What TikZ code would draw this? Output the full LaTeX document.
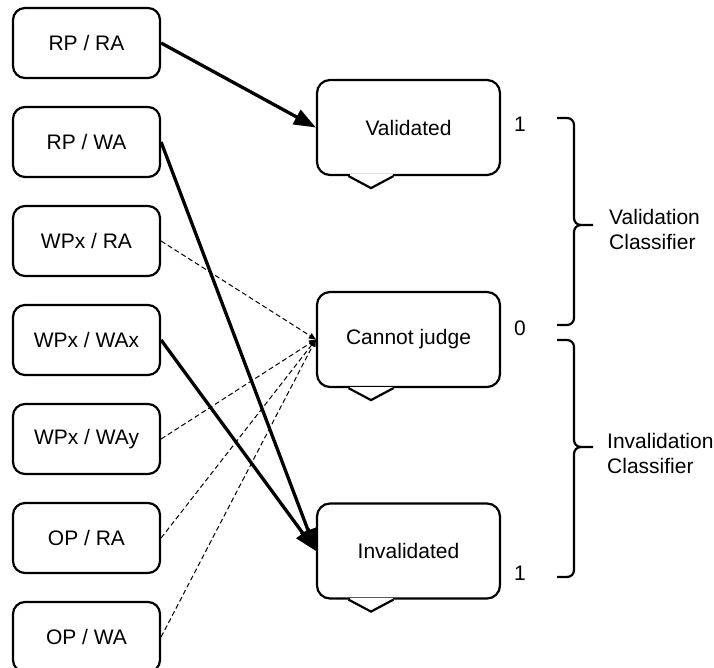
\documentclass[tikz,border=0pt]{standalone}
\usepackage{fontspec}
\setmainfont{Liberation Sans}
\usetikzlibrary{arrows.meta}

\tikzset{
  case/.style={draw, line width=2.2pt, rounded corners=12pt, minimum width=147pt, minimum height=70pt, inner sep=0pt},
  verdict/.style={draw, line width=2.2pt, rounded corners=13pt, minimum width=183pt, minimum height=95pt, inner sep=0pt},
  sure/.style={line width=3.3pt, -{Triangle[length=22pt,width=16pt]}},
  unsure/.style={line width=1pt, dash pattern=on 5pt off 3pt, -{Triangle[length=7pt,width=6pt]}},
  brace/.style={line width=2.2pt}
}

\begin{document}
\begin{tikzpicture}[x=1pt, y=-1pt, font=\fontsize{21}{25}\selectfont]
  \useasboundingbox (0,0) rectangle (714,668);
  \def\gap{99} % spacing of the left boxes

  \foreach \txt [count=\i] in {RP / RA, RP / WA, WPx / RA, WPx / WAx, WPx / WAy, OP / RA, OP / WA}
    \node[case] (c\i) at (86.5, {43+(\i-1)*\gap}) {\txt};

  \node[verdict] (val) at (408.5,127.5) {Validated};
  \node[verdict] (cj) at (408.5,339.5) {Cannot judge};
  \node[verdict] (inv) at (408.5,551) {Invalidated};
  \foreach \v in {val, cj, inv}{
    \fill[white] ([xshift=-59pt,yshift=1.6pt]\v.south) rectangle ([xshift=-16pt,yshift=-1.6pt]\v.south);
    \draw[line width=2.2pt] ([xshift=-60pt]\v.south) -- ([xshift=-37.5pt,yshift=-12pt]\v.south) -- ([xshift=-15pt]\v.south);}

  \draw[sure] (c1.east) -- (val.west);
  \draw[sure] (c2.east) -- (inv.west);
  \draw[sure] (c4.east) -- (inv.west);
  \foreach \i in {3,5,6,7}
    \draw[unsure] (c\i.east) -- (cj.west);

  \node (top1) at (520,124) {1};
  \node (mid0) at (520,328) {0};
  \node (bot1) at (520,573) {1};

  % braces
  \draw[brace] (557,118) -- (567,118) .. controls (571,118) and (574,121) .. (574,125) -- (574,218)
    .. controls (574,222) and (577,225) .. (581,225) -- (593,225);
  \draw[brace] (581,225) .. controls (577,225) and (574,228) .. (574,232) -- (574,318)
    .. controls (574,322) and (571,325) .. (567,325) -- (557,325);
  \draw[brace] (557,340) -- (567,340) .. controls (571,340) and (574,343) .. (574,347) -- (574,440)
    .. controls (574,444) and (577,447) .. (581,447) -- (593,447);
  \draw[brace] (581,447) .. controls (577,447) and (574,450) .. (574,454) -- (574,570)
    .. controls (574,574) and (571,577) .. (567,577) -- (557,577);

  \node[align=left, anchor=west, inner sep=0pt] (vcl) at (609,229) {Validation\\Classifier};
  \node[align=left, anchor=west, inner sep=0pt] (icl) at (607,453) {Invalidation\\Classifier};
\end{tikzpicture}
\end{document}
